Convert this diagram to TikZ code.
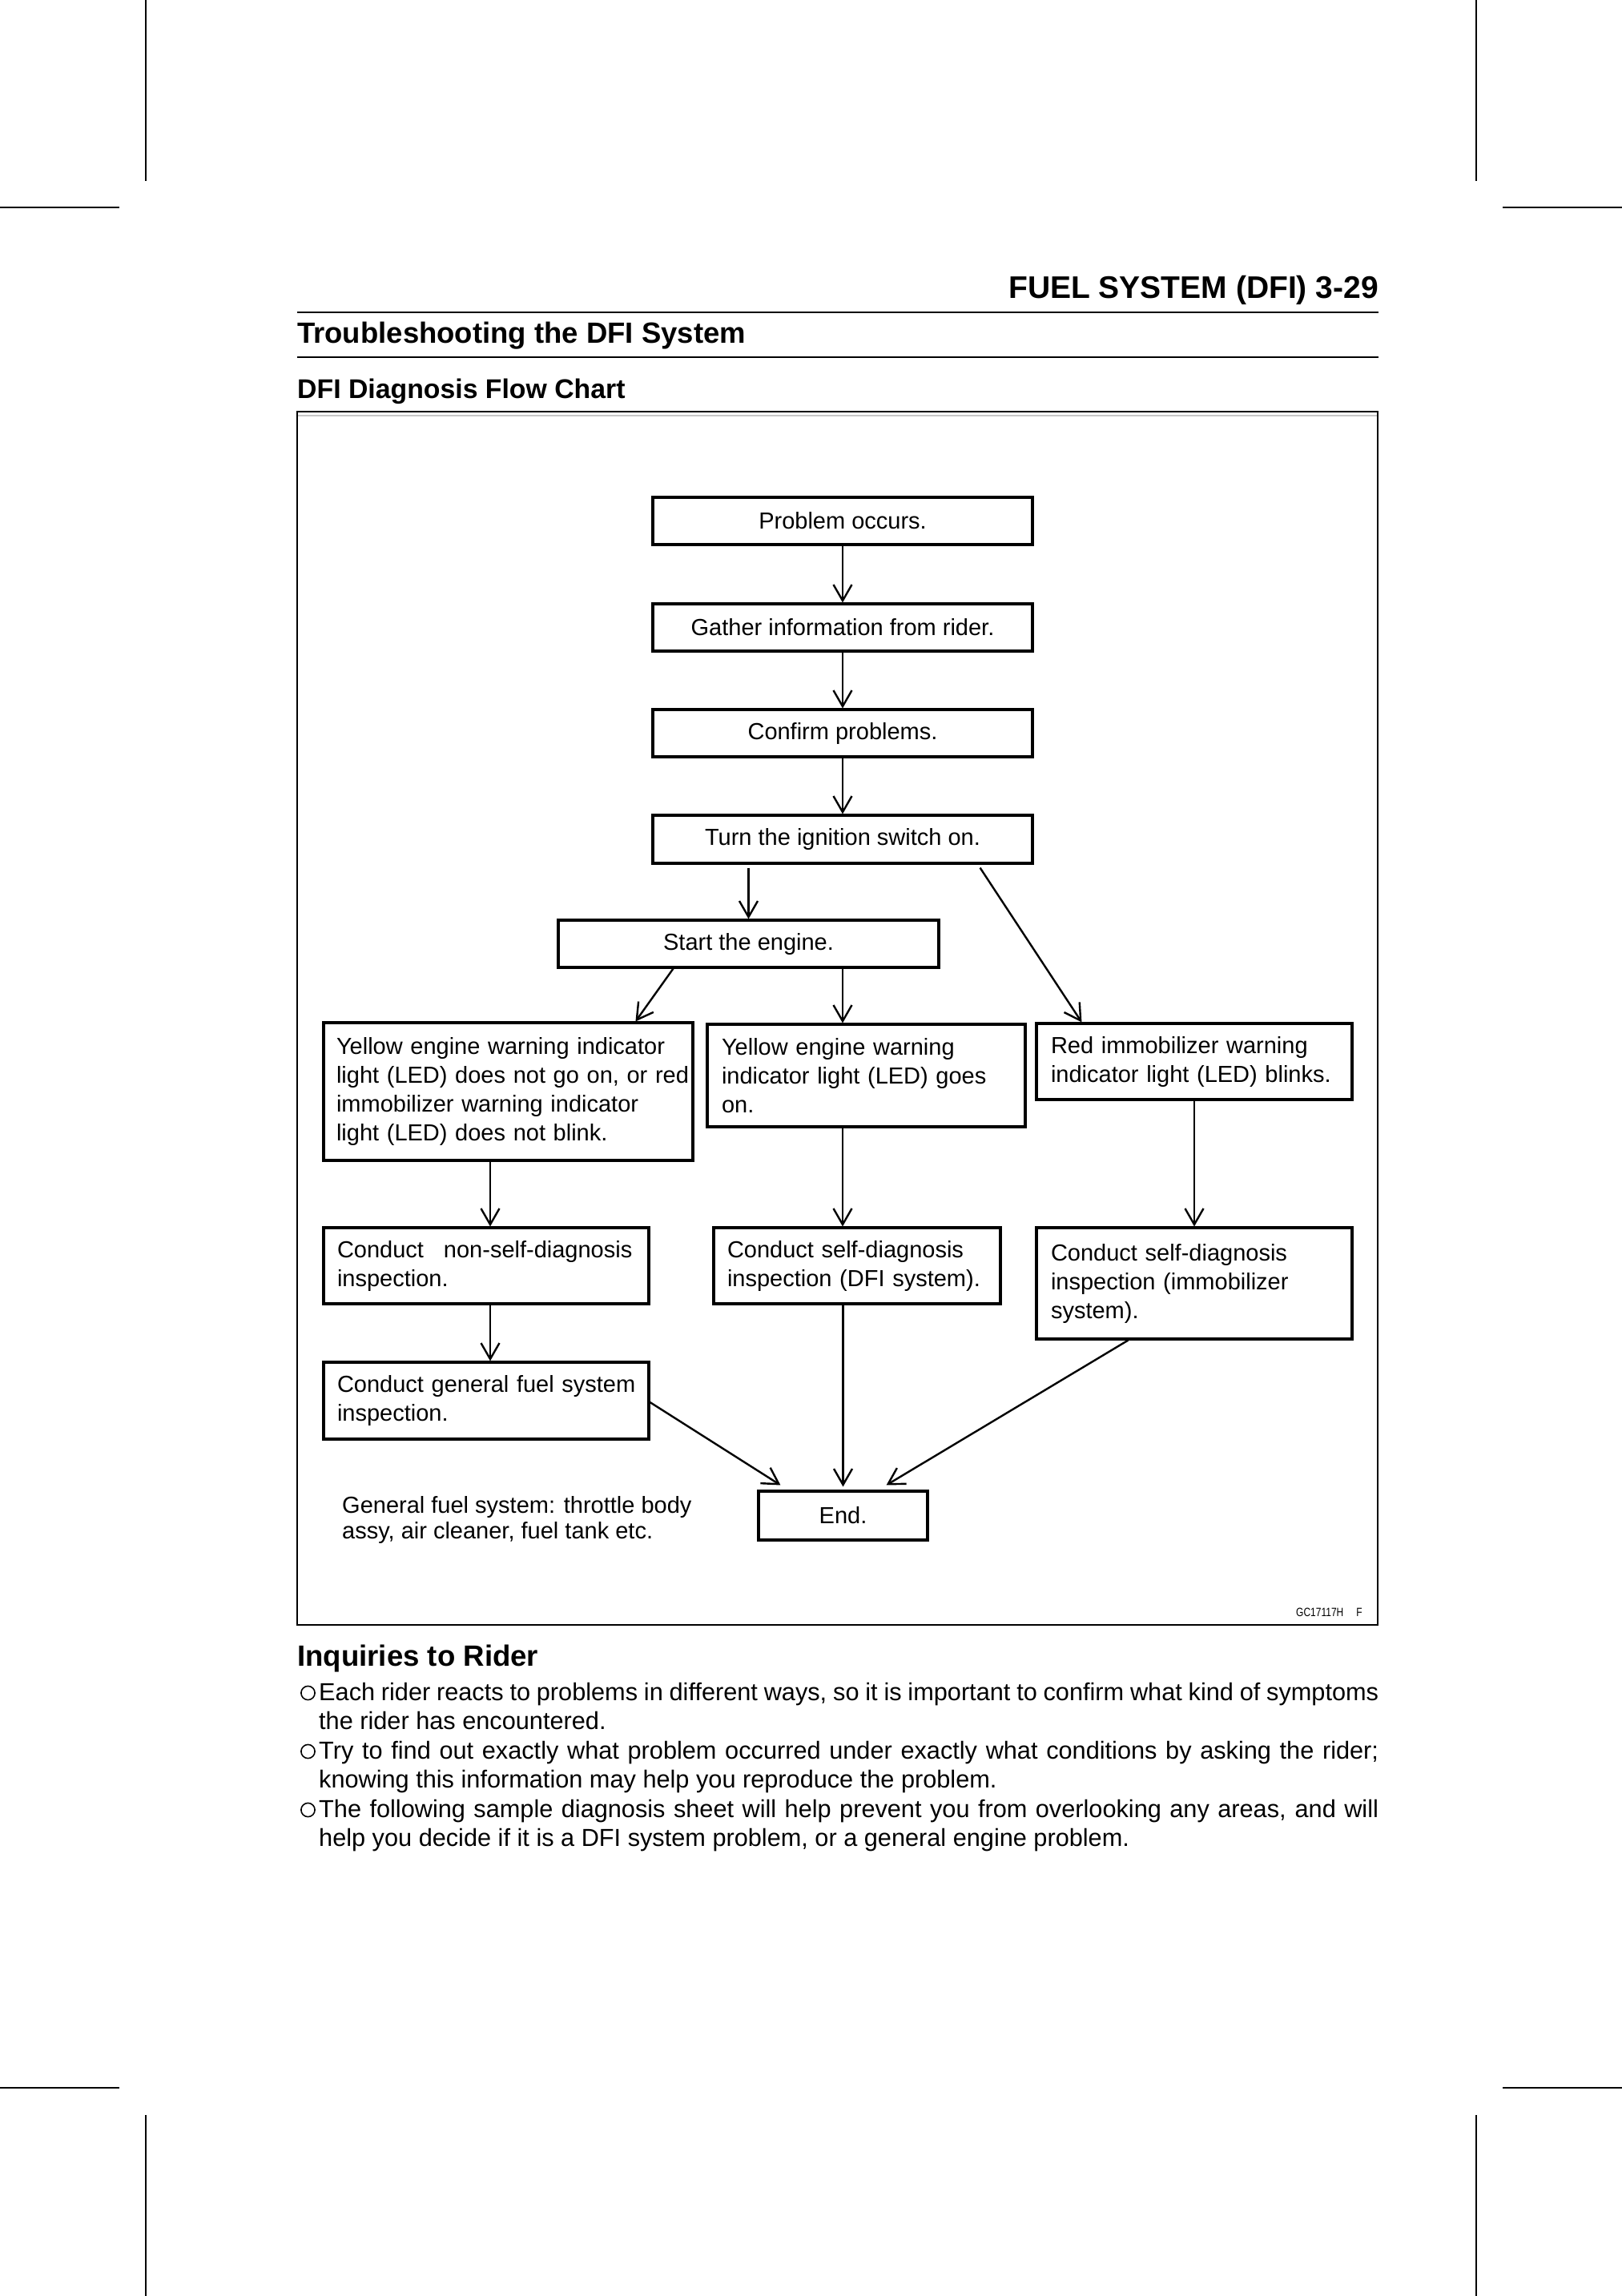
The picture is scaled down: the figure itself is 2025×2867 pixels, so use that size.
\documentclass[tikz,border=0pt]{standalone}
\usepackage{fontspec}
\setmainfont{Liberation Sans}
\usetikzlibrary{arrows.meta,calc}
\newcommand{\bxf}{\fontsize{29}{36}\selectfont}
\newcommand{\bodyf}{\fontsize{30.7}{36.5}\selectfont}
\begin{document}
\begin{tikzpicture}[x=1pt,y=-1pt,
  box/.style={draw, line width=3.1pt, inner ysep=0pt, align=left, font=\bxf},
  cbox/.style={draw, line width=3.1pt, inner sep=0pt, align=center, font=\bxf},
  arr/.style={line width=2.4pt, -{Straight Barb[length=20pt,width=23pt]}},
  cropln/.style={line width=2pt},
  rule/.style={line width=2.2pt},
  txt/.style={inner sep=0pt},
  bodyline/.style={inner sep=0pt, anchor=base west, font=\bodyf},
  bul/.style={line width=1.6pt}
]
\useasboundingbox (0,0) rectangle (2025,2867);
\fill[white] (0,0) rectangle (2025,2867);

% crop marks
\draw[cropln] (182,0) -- (182,226);
\draw[cropln] (0,259) -- (149,259);
\draw[cropln] (1843,0) -- (1843,226);
\draw[cropln] (1876,259) -- (2025,259);
\draw[cropln] (0,2607) -- (149,2607);
\draw[cropln] (182,2641) -- (182,2867);
\draw[cropln] (1876,2607) -- (2025,2607);
\draw[cropln] (1843,2641) -- (1843,2867);

% header
\node[txt, anchor=base east, font=\fontsize{39}{44}\selectfont\bfseries] (hdr) at (1721,372) {FUEL SYSTEM (DFI) 3-29};
\draw[rule] (371,390) -- (1721,390);
\node[txt, anchor=base west, font=\fontsize{36.5}{40}\selectfont\bfseries] (sect) at (371,428) {Troubleshooting the DFI System};
\draw[rule] (371,446) -- (1721,446);
\node[txt, anchor=base west, font=\fontsize{33.8}{40}\selectfont\bfseries] (sub) at (371,497) {DFI Diagnosis Flow Chart};

% frame
\draw[line width=2.2pt] (371,514) rectangle (1720,2029);
\draw[line width=1.5pt, gray!45] (372,519) -- (1719,519);
\node[txt, anchor=base west, font=\fontsize{15}{16}\selectfont] (code) at (1618,2018) {\scalebox{0.8}[1]{GC17117H\hspace{20pt}F}};

% flow boxes
\node[cbox, minimum width=474pt, minimum height=59pt] (b1) at (1052,650.5) {Problem occurs.};
\node[cbox, minimum width=474pt, minimum height=59pt] (b2) at (1052,783.5) {Gather information from rider.};
\node[cbox, minimum width=474pt, minimum height=59pt] (b3) at (1052,915.5) {Confirm problems.};
\node[cbox, minimum width=474pt, minimum height=60pt] (b4) at (1052,1048) {Turn the ignition switch on.};
\node[cbox, minimum width=475pt, minimum height=59pt] (b5) at (934.5,1178.5) {Start the engine.};

\node[box, minimum width=461pt, minimum height=172pt, text width=429pt, inner xsep=16pt] (r3a) at (634.5,1363)
  {Yellow engine warning indicator\\ \mbox{light (LED) does not go on, or red}\\ immobilizer warning indicator\\ light (LED) does not blink.};
\node[box, minimum width=397pt, minimum height=128pt, text width=361pt, inner xsep=18pt] (r3b) at (1081.5,1343)
  {Yellow engine warning\\ indicator light (LED) goes\\ on.};
\node[box, minimum width=394pt, minimum height=95pt, text width=358pt, inner xsep=18pt] (r3c) at (1491,1325.5)
  {Red immobilizer warning\\ \mbox{indicator light (LED) blinks.}};

\node[box, minimum width=406pt, minimum height=95pt, text width=372pt, inner xsep=17pt] (r4a) at (607,1580.5)
  {\makebox[372pt][l]{Conduct\hspace{25pt}non-self-diagnosis}\\ inspection.};
\node[box, minimum width=358pt, minimum height=95pt, text width=324pt, inner xsep=17pt] (r4b) at (1070,1580.5)
  {Conduct self-diagnosis\\ \mbox{inspection (DFI system).}};
\node[box, minimum width=394pt, minimum height=139pt, text width=358pt, inner xsep=18pt] (r4c) at (1491,1602.5)
  {Conduct self-diagnosis\\ inspection (immobilizer\\ system).};

\node[box, minimum width=406pt, minimum height=96pt, text width=372pt, inner xsep=17pt] (r5) at (607,1749)
  {\mbox{Conduct general fuel system}\\ inspection.};

\node[cbox, minimum width=211pt, minimum height=61pt] (end) at (1052.5,1892.5) {End.};

\node[txt, anchor=west, align=left, font=\fontsize{29}{32}\selectfont] (note) at (427,1898)
  {General fuel system: throttle body\\ assy, air cleaner, fuel tank etc.};

% connectors
\draw[arr] (b1.south) -- (b2.north);
\draw[arr] (b2.south) -- (b3.north);
\draw[arr] (b3.south) -- (b4.north);
\draw[arr] ($(b4.south -| b5.north)+(0,4)$) -- (b5.north);
\draw[arr] ($(b4.south east)+(-67,4)$) -- ($(r3c.north west)+(58,0)$);
\draw[arr] ($(b5.south west)+(145,0)$) -- ($(r3a.north west)+(391,0)$);
\draw[arr] (b5.south -| b1.south) -- (r3b.north -| b1.south);
\draw[arr] ($(r3a.south -| r4a.north)+(5,0)$) -- ($(r4a.north)+(5,0)$);
\draw[arr] (r3b.south -| b1.south) -- (r4b.north -| b1.south);
\draw[arr] (r3c.south -| r4c.north) -- (r4c.north);
\draw[arr] ($(r4a.south)+(5,0)$) -- ($(r5.north)+(5,0)$);
\draw[arr] ($(r5.east)+(0,2)$) -- ($(end.north west)+(29,-6)$);
\draw[arr] (r4b.south -| end.north) -- ($(end.north)+(0,-4)$);
\draw[arr] ($(r4c.south west)+(116,0)$) -- ($(end.north east)+(-53,-6)$);

% Inquiries
\node[txt, anchor=base west, font=\fontsize{36.6}{40}\selectfont\bfseries] (inq) at (371,2080) {Inquiries to Rider};
\draw[bul] (384.5,2114) circle (8.6);
\node[bodyline] (l1) at (398,2123) {\makebox[1323pt][s]{Each rider reacts to problems in different ways, so it is important to confirm what kind of symptoms}};
\node[bodyline] (l2) at (398,2159.5) {the rider has encountered.};
\draw[bul] (384.5,2187) circle (8.6);
\node[bodyline] (l3) at (398,2196) {\makebox[1323pt][s]{Try to find out exactly what problem occurred under exactly what conditions by asking the rider;}};
\node[bodyline] (l4) at (398,2232.5) {knowing this information may help you reproduce the problem.};
\draw[bul] (384.5,2260) circle (8.6);
\node[bodyline] (l5) at (398,2269) {\makebox[1323pt][s]{The following sample diagnosis sheet will help prevent you from overlooking any areas, and will}};
\node[bodyline] (l6) at (398,2305.5) {help you decide if it is a DFI system problem, or a general engine problem.};
\end{tikzpicture}
\end{document}
